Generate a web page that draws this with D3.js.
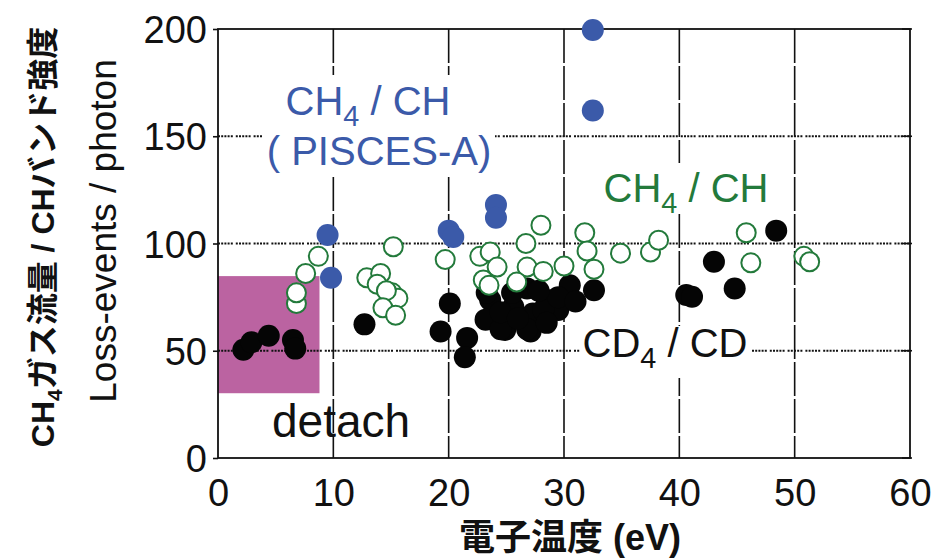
<!DOCTYPE html>
<html>
<head>
<meta charset="utf-8">
<script src="https://cdn.jsdelivr.net/npm/d3@7"></script>
<style>
  body { margin: 0; background: #fff; }
  svg { display: block; font-family: "Liberation Sans", Arial, "Noto Sans CJK JP", sans-serif; }
</style>
</head>
<body>
<svg id="chart" width="934" height="560"></svg>
<script>
// PISCES-A CH4 / CH (blue, filled)
const pisces = [[32.5, 199.5], [32.5, 162], [9.5, 104], [9.8, 84], [20.0, 106], [20.4, 103], [24.1, 118], [24.1, 112]];

// CH4 / CH (green, open)
const ch4 = [
    [6.8, 72], [6.8, 77], [7.6, 86], [8.7, 94],
    [12.9, 84], [14.1, 86], [13.8, 81], [15.2, 98.5], [15.1, 77], [15.6, 74.5], [14.6, 78], [14.3, 70], [15.4, 66.5],
    [19.7, 92.5], [22.7, 94], [23.6, 96], [24.2, 89], [23.0, 83], [23.5, 80.5],
    [26.7, 100], [28.0, 108.5], [26.8, 89], [28.2, 87], [25.9, 82], [30.0, 89.5],
    [31.8, 105], [32.0, 96.5], [32.6, 88], [34.9, 95.5], [37.5, 96], [38.2, 101.5],
    [45.8, 105], [46.2, 91], [50.8, 94], [51.3, 91.5]
];

// CD4 / CD (black, filled)
const cd4 = [
    [2.2, 50.5], [2.9, 54], [4.4, 57], [6.5, 55], [6.7, 51],
    [12.7, 62.3],
    [19.3, 59], [20.1, 72], [21.6, 56], [21.4, 47],
    [23.6, 73.7], [23.2, 64.5], [24.9, 59.7], [27.1, 59], [25.6, 70.5], [27.3, 67.4], [26.8, 79],
    [28.5, 73.7], [29.5, 69], [30.5, 80.5], [32.6, 78.2], [23.3, 77], [24.5, 60], [26.8, 60],
    [28.2, 69], [25.5, 77], [24.5, 68], [26, 65], [28.5, 63], [29.5, 75], [31, 73], [27.8, 78],
    [40.6, 76], [41.1, 75.2], [43, 91.5], [44.8, 79], [48.4, 106]
];

// detach region [x0, x1, y0, y1]
const detachBox = [0, 8.8, 30.2, 84.8];

const xTicks = [0, 10, 20, 30, 40, 50, 60];
const yTicks = [0, 50, 100, 150, 200];
const xGrid = [10, 20, 30, 40, 50];
const yGrid = [50, 100, 150];

const blue = "#3b5aa9", green = "#237a3b", pink = "#bb63a1";

const svg = d3.select("#chart");

const x = d3.scaleLinear().domain([0, 60]).range([218, 910]);
const y = d3.scaleLinear().domain([0, 200]).range([458, 29]);

// detach box
svg.append("rect")
    .attr("x", x(detachBox[0]))
    .attr("y", y(detachBox[3]))
    .attr("width", x(detachBox[1]) - x(detachBox[0]))
    .attr("height", y(detachBox[2]) - y(detachBox[3]))
    .attr("fill", pink);

// grid
svg.append("g").selectAll("line")
    .data(xGrid)
    .join("line")
    .attr("x1", d => x(d)).attr("x2", d => x(d))
    .attr("y1", y(200)).attr("y2", y(0))
    .attr("stroke", "#111").attr("stroke-width", 1.6)
    .attr("stroke-dasharray", "34,3");

svg.append("g").selectAll("line")
    .data(yGrid)
    .join("line")
    .attr("x1", x(0)).attr("x2", x(60))
    .attr("y1", d => y(d)).attr("y2", d => y(d))
    .attr("stroke", "#111").attr("stroke-width", 2)
    .attr("stroke-dasharray", "2,1.2,2,1.2,2,1.2,2,1.2,2,3");

// text with a subscript "4"
function label(g, xPos, yPos, parts, size, color, anchor) {
    const t = g.append("text")
        .attr("x", xPos).attr("y", yPos)
        .attr("text-anchor", anchor || "middle")
        .style("font-size", size + "px")
        .attr("fill", color);
    let shift = 0;
    parts.forEach(p => {
        const ts = t.append("tspan").text(p.s);
        if (p.sub) {
            ts.attr("dy", size * 0.28).style("font-size", (size * 0.72) + "px");
            shift = size * 0.28;
        } else if (shift) {
            ts.attr("dy", -shift);
            shift = 0;
        }
    });
    return t;
}

// white patches behind the labels that cover the grid
svg.append("rect").attr("x", 262).attr("y", 75).attr("width", 233).attr("height", 100).attr("fill", "#fff");
svg.append("rect").attr("x", 600).attr("y", 163).attr("width", 172).attr("height", 50).attr("fill", "#fff");
svg.append("rect").attr("x", 580).attr("y", 326).attr("width", 170).attr("height", 52).attr("fill", "#fff");

// frame
svg.append("rect")
    .attr("x", x(0)).attr("y", y(200))
    .attr("width", x(60) - x(0)).attr("height", y(0) - y(200))
    .attr("fill", "none").attr("stroke", "#111").attr("stroke-width", 1.8);

// axes
const yAxis = svg.append("g")
    .attr("transform", `translate(${x(0)},0)`)
    .call(d3.axisLeft(y).tickValues(yTicks).tickSize(5).tickPadding(6));
yAxis.select(".domain").remove();
yAxis.selectAll("line").attr("stroke", "#111").attr("stroke-width", 1.6);
yAxis.selectAll("text").style("font-size", "38px").attr("fill", "#111")
    .style("font-family", "'Liberation Sans', Arial, sans-serif").attr("dy", "0.36em");

svg.append("g").selectAll("line")
    .data(yTicks)
    .join("line")
    .attr("x1", x(60) - 8).attr("x2", x(60) + 2)
    .attr("y1", d => y(d)).attr("y2", d => y(d))
    .attr("stroke", "#111").attr("stroke-width", 1.6);

const xAxis = svg.append("g")
    .attr("transform", `translate(0,${y(0)})`)
    .call(d3.axisBottom(x).tickValues(xTicks).tickSize(0).tickPadding(21));
xAxis.select(".domain").remove();
xAxis.selectAll("text").style("font-size", "38px").attr("fill", "#111")
    .style("font-family", "'Liberation Sans', Arial, sans-serif");

// points: black, then green open, then blue
svg.append("g").selectAll("circle")
    .data(cd4)
    .join("circle")
    .attr("cx", d => x(d[0])).attr("cy", d => y(d[1]))
    .attr("r", 11)
    .attr("fill", "#050505");

svg.append("g").selectAll("circle")
    .data(ch4)
    .join("circle")
    .attr("cx", d => x(d[0])).attr("cy", d => y(d[1]))
    .attr("r", 9.5)
    .attr("fill", "#fff")
    .attr("stroke", green).attr("stroke-width", 2);

svg.append("g").selectAll("circle")
    .data(pisces)
    .join("circle")
    .attr("cx", d => x(d[0])).attr("cy", d => y(d[1]))
    .attr("r", 11)
    .attr("fill", blue);

// labels
const lab = svg.append("g");
label(lab, 368, 115, [{s: "CH"}, {s: "4", sub: true}, {s: " / CH"}], 40, blue);
label(lab, 379, 165, [{s: "( PISCES-A)"}], 40, blue);
label(lab, 686, 202, [{s: "CH"}, {s: "4", sub: true}, {s: " / CH"}], 40, green);
label(lab, 665, 357, [{s: "CD"}, {s: "4", sub: true}, {s: " / CD"}], 40, "#111");
label(lab, 272, 437, [{s: "detach"}], 46, "#111", "start");

// axis titles
svg.append("text")
    .attr("x", 570).attr("y", 550)
    .attr("text-anchor", "middle")
    .style("font-size", "36px").style("font-weight", "bold")
    .attr("fill", "#111")
    .text("電子温度 (eV)");

svg.append("text")
    .attr("transform", "translate(116,231) rotate(-90)")
    .attr("text-anchor", "middle")
    .style("font-size", "37px")
    .attr("fill", "#111")
    .text("Loss-events / photon");

const jt = svg.append("text")
    .attr("transform", "translate(54,237) rotate(-90)")
    .attr("text-anchor", "middle")
    .style("font-size", "32px").style("font-weight", "bold")
    .attr("fill", "#111");
jt.append("tspan").text("CH");
jt.append("tspan").attr("dy", 8).style("font-size", "21px").text("4");
jt.append("tspan").attr("dy", -8).text("ガス流量 / CHバンド強度");
</script>
</body>
</html>
